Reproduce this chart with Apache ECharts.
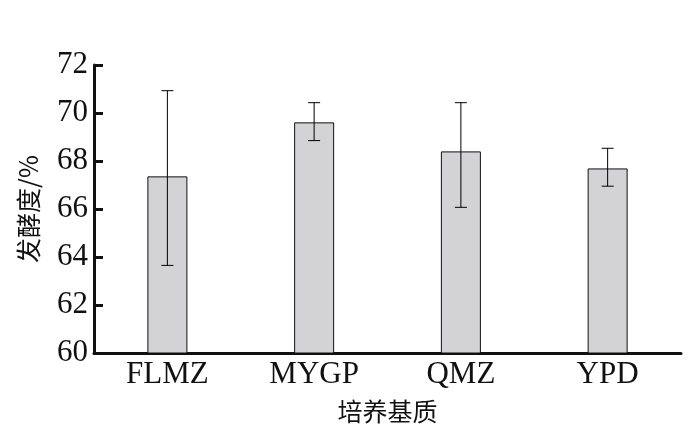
<!DOCTYPE html>
<html>
<head>
<meta charset="utf-8">
<script src="https://cdn.jsdelivr.net/npm/echarts@6/dist/echarts.min.js"></script>
<style>
  html, body { margin: 0; padding: 0; background: #fff; }
  #chart { width: 698px; height: 440px; }
</style>
</head>
<body>
<div id="chart"></div>
<script>
// data
var categories = ['FLMZ', 'MYGP', 'QMZ', 'YPD'];
var means = [67.36, 69.61, 68.40, 67.69];
var errLow = [63.65, 68.85, 66.07, 66.95];
var errHigh = [70.93, 70.43, 70.43, 68.53];

var serif = 'Liberation Serif';
var cjk = 'Noto Sans CJK SC';

var errData = [];
for (var i = 0; i < categories.length; i++) {
	errData.push([i, errLow[i], errHigh[i]]);
}

function renderErr(params, api) {
	var x = api.value(0);
	var lo = api.coord([x, api.value(1)]);
	var hi = api.coord([x, api.value(2)]);
	var half = 6;
	var style = { stroke: '#000', lineWidth: 1 };
	return {
		type: 'group',
		children: [
			{ type: 'line', shape: { x1: lo[0], y1: lo[1], x2: hi[0], y2: hi[1] }, style: style },
			{ type: 'line', shape: { x1: lo[0] - half, y1: lo[1], x2: lo[0] + half, y2: lo[1] }, style: style },
			{ type: 'line', shape: { x1: hi[0] - half, y1: hi[1], x2: hi[0] + half, y2: hi[1] }, style: style }
		]
	};
}

var chart = echarts.init(document.getElementById('chart'));
chart.setOption({
	animation: false,
	backgroundColor: '#fff',
	grid: { left: 94, right: 17, top: 65, bottom: 87 },
	xAxis: {
		type: 'category',
		data: categories,
		name: '培养基质',
		nameLocation: 'middle',
		nameGap: 46,
		nameTextStyle: { color: '#111', fontFamily: cjk, fontSize: 25 },
		axisLine: { lineStyle: { color: '#111', width: 3 } },
		axisTick: { inside: true, length: 9, lineStyle: { color: '#111', width: 3 } },
		axisLabel: { color: '#111', fontFamily: serif, fontSize: 31, margin: 6 }
	},
	yAxis: {
		type: 'value',
		min: 60,
		max: 72,
		interval: 2,
		name: '发酵度/%',
		nameLocation: 'middle',
		nameGap: 53,
		nameRotate: 90,
		nameTextStyle: { color: '#111', fontFamily: cjk, fontSize: 25 },
		axisLine: { show: true, lineStyle: { color: '#111', width: 3 } },
		axisTick: { show: true, inside: true, length: 9, lineStyle: { color: '#111', width: 3 } },
		axisLabel: { color: '#111', fontFamily: serif, fontSize: 31, margin: 6 },
		splitLine: { show: false }
	},
	series: [{
		type: 'bar',
		data: means,
		barWidth: 40,
		itemStyle: { color: '#d3d3d5', borderColor: '#111', borderWidth: 1 }
	}, {
		type: 'custom',
		data: errData,
		renderItem: renderErr,
		encode: { x: 0, y: [1, 2] },
		z: 3
	}]
});
</script>
</body>
</html>
